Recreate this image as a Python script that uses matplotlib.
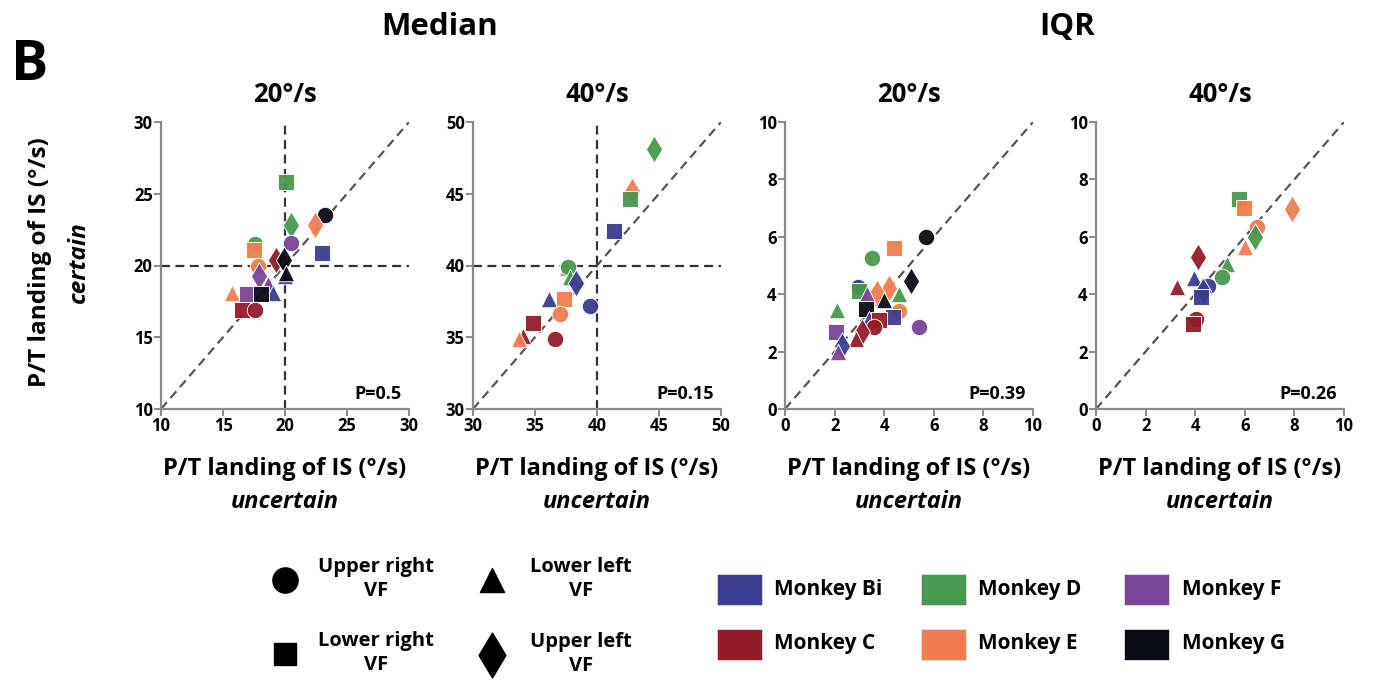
import matplotlib
matplotlib.use("Agg")
import matplotlib.pyplot as plt
from matplotlib.patches import Rectangle

plt.rcParams['font.family'] = ['Open Sans', 'DejaVu Sans']
plt.rcParams['font.weight'] = 'bold'

monkey_colors = {"Bi": "#3a3d8f", "C": "#951b2b", "D": "#47994d", "E": "#f07e4f", "F": "#7a4499", "G": "#0b0b16"}
shape_markers = {"UR": "o", "LR": "s", "LL": "^", "UL": "d"}
shape_labels = ["Upper right\nVF", "Lower right\nVF", "Lower left\nVF", "Upper left\nVF"]

# Median 20 deg/s: (monkey, field, uncertain, certain)
med20_monkey = ["D", "G", "E", "D", "F", "Bi", "D", "E", "C", "G", "E", "F", "Bi", "G", "F", "Bi", "E", "F", "G", "C", "C"]
med20_field  = ["LR", "UR", "UL", "UL", "UR", "LR", "UR", "LR", "UL", "UL", "UR", "UL", "LL", "LL", "LL", "LL", "LL", "LR", "LR", "LR", "UR"]
med20_x = [20.1, 23.2, 22.4, 20.5, 20.5, 23.0, 17.6, 17.5, 19.3, 19.9, 17.8, 17.9, 20.0, 20.1, 18.6, 19.0, 15.7, 16.9, 18.1, 16.5, 17.6]
med20_y = [25.8, 23.5, 22.8, 22.8, 21.6, 20.9, 21.5, 21.1, 20.4, 20.4, 20.0, 19.3, 19.3, 19.5, 18.7, 18.1, 18.1, 18.0, 18.0, 16.9, 16.9]

# Median 40 deg/s
med40_monkey = ["D", "E", "D", "Bi", "E", "D", "D", "Bi", "Bi", "E", "Bi", "E", "C", "C", "E", "C"]
med40_field  = ["UL", "UL", "LR", "LR", "LL", "UR", "LL", "UL", "LL", "LR", "UR", "UR", "LR", "LL", "LL", "UR"]
med40_x = [44.6, 42.8, 42.7, 41.4, 37.6, 37.7, 37.8, 38.3, 36.1, 37.3, 39.4, 37.0, 34.8, 34.0, 33.7, 36.6]
med40_y = [48.1, 45.2, 44.6, 42.4, 39.8, 39.9, 39.2, 38.8, 37.7, 37.7, 37.2, 36.6, 36.0, 35.1, 34.9, 34.9]

# IQR 20 deg/s
iqr20_monkey = ["G", "E", "D", "G", "E", "Bi", "D", "E", "F", "D", "G", "D", "G", "E", "Bi", "Bi", "C", "C", "F", "F", "C", "C", "Bi", "F"]
iqr20_field  = ["UR", "LR", "UR", "UL", "UL", "UR", "LR", "UL", "LL", "LL", "LL", "LL", "LR", "UR", "LR", "LL", "LR", "UR", "UR", "LR", "UL", "LL", "UL", "LL"]
iqr20_x = [5.7, 4.4, 3.5, 5.1, 4.2, 2.95, 3.0, 3.7, 3.3, 4.6, 4.0, 2.1, 3.25, 4.6, 4.35, 3.4, 3.8, 3.6, 5.4, 2.05, 3.1, 2.85, 2.3, 2.15]
iqr20_y = [6.0, 5.6, 5.25, 4.45, 4.2, 4.25, 4.1, 4.05, 4.0, 4.0, 3.8, 3.45, 3.5, 3.4, 3.2, 3.15, 3.1, 2.87, 2.87, 2.7, 2.68, 2.43, 2.2, 1.97]

# IQR 40 deg/s
iqr40_monkey = ["D", "E", "E", "E", "D", "E", "C", "D", "D", "Bi", "Bi", "C", "Bi", "Bi", "C", "C"]
iqr40_field  = ["LR", "LR", "UL", "UR", "UL", "LL", "UL", "LL", "UR", "LL", "UR", "LL", "UL", "LR", "UR", "LR"]
iqr40_x = [5.75, 5.95, 7.9, 6.5, 6.4, 6.0, 4.1, 5.3, 5.1, 3.95, 4.5, 3.25, 4.3, 4.25, 4.05, 3.9]
iqr40_y = [7.3, 7.0, 6.97, 6.35, 6.0, 5.65, 5.3, 5.05, 4.6, 4.55, 4.3, 4.25, 4.1, 3.9, 3.12, 2.95]

panels = [
    dict(monkey=med20_monkey, field=med20_field, x=med20_x, y=med20_y, lim=(10, 30), ticks=[10, 15, 20, 25, 30], cross=20, p="P=0.5", title="20°/s"),
    dict(monkey=med40_monkey, field=med40_field, x=med40_x, y=med40_y, lim=(30, 50), ticks=[30, 35, 40, 45, 50], cross=40, p="P=0.15", title="40°/s"),
    dict(monkey=iqr20_monkey, field=iqr20_field, x=iqr20_x, y=iqr20_y, lim=(0, 10), ticks=[0, 2, 4, 6, 8, 10], cross=None, p="P=0.39", title="20°/s"),
    dict(monkey=iqr40_monkey, field=iqr40_field, x=iqr40_x, y=iqr40_y, lim=(0, 10), ticks=[0, 2, 4, 6, 8, 10], cross=None, p="P=0.26", title="40°/s"),
]

W, H = 1374, 681
fig = plt.figure(figsize=(W / 100, H / 100), dpi=100)

lefts = [161, 473, 785, 1096]
ax_w, ax_top, ax_bot = 248, 122, 409
marker_sizes = {"o": 140, "s": 125, "^": 140, "d": 190}

for i, pan in enumerate(panels):
    ax = fig.add_axes([lefts[i] / W, 1 - ax_bot / H, ax_w / W, (ax_bot - ax_top) / H])
    lo, hi = pan["lim"]
    ax.set_xlim(lo, hi)
    ax.set_ylim(lo, hi)
    ax.set_xticks(pan["ticks"])
    ax.set_yticks(pan["ticks"])
    for s in ["top", "right"]:
        ax.spines[s].set_visible(False)
    for s in ["left", "bottom"]:
        ax.spines[s].set_color("#8a8a8a")
        ax.spines[s].set_linewidth(1.6)
    ax.tick_params(direction="out", length=5, width=1.4, color="#8a8a8a", labelsize=12, pad=1)
    for lab in ax.get_xticklabels() + ax.get_yticklabels():
        lab.set_fontweight("bold")
    ax.plot([lo, hi], [lo, hi], ls=(0, (4, 2.5)), color="#555555", lw=1.6, zorder=1)
    if pan["cross"] is not None:
        c = pan["cross"]
        ax.axvline(c, ls=(0, (4, 2.5)), color="#333333", lw=1.6, zorder=1)
        ax.axhline(c, ls=(0, (4, 2.5)), color="#333333", lw=1.6, zorder=1)
    for m, f, xv, yv in zip(pan["monkey"], pan["field"], pan["x"], pan["y"]):
        mk = shape_markers[f]
        ax.scatter(xv, yv, marker=mk, s=marker_sizes[mk], color=monkey_colors[m], edgecolors="white",
                   linewidths=0.7, alpha=0.95, zorder=3)
    ax.text(0.97, 0.02, pan["p"], transform=ax.transAxes, ha="right", va="bottom",
            fontsize=13, fontweight="bold")
    cx = (lefts[i] + ax_w / 2) / W
    fig.text(cx, 1 - 94 / H, pan["title"], ha="center", va="center", fontsize=18.5, fontweight="bold")
    fig.text(cx, 1 - 469 / H, "P/T landing of IS (°/s)", ha="center", va="center", fontsize=17, fontweight="bold")
    fig.text(cx, 1 - 502 / H, "uncertain", ha="center", va="center", fontsize=17, fontweight="bold", style="italic")

# y label (first panel)
fig.text(40 / W, 1 - 262 / H, "P/T landing of IS (°/s)", ha="center", va="center", rotation=90,
         fontsize=17.5, fontweight="bold")
fig.text(79 / W, 1 - 262 / H, "certain", ha="center", va="center", rotation=90,
         fontsize=17.5, fontweight="bold", style="italic")

# Section titles
fig.text(440 / W, 1 - 27 / H, "Median", ha="center", va="center", fontsize=22.5, fontweight="bold")
fig.text(1067 / W, 1 - 27 / H, "IQR", ha="center", va="center", fontsize=22.5, fontweight="bold")
fig.text(30 / W, 1 - 66 / H, "B", ha="center", va="center", fontsize=40, fontweight="bold")

# Legend layer in pixel coordinates
lax = fig.add_axes([0, 0, 1, 1], facecolor="none")
lax.set_xlim(0, W)
lax.set_ylim(H, 0)
lax.axis("off")

# Shape legend
shape_pos = [(285, 580, "o"), (285, 654, "s"), (492, 580, "^"), (492, 655, "d")]
shape_text_x = [376, 376, 581, 581]
shape_leg_sizes = {"o": 330, "s": 260, "^": 300, "d": 520}
for (px, py, mk), lbl, tx in zip(shape_pos, shape_labels, shape_text_x):
    lax.scatter(px, py, marker=mk, s=shape_leg_sizes[mk], color="black")
    lax.text(tx, py - 1, lbl, ha="center", va="center", fontsize=14.5, fontweight="bold", linespacing=1.25)

# Monkey legend
patch_x = [717, 921, 1124]
text_x = [774, 978, 1182]
rows_y = [589, 644]
order = [["Bi", "D", "F"], ["C", "E", "G"]]
for r, row in enumerate(order):
    for c, key in enumerate(row):
        lax.add_patch(Rectangle((patch_x[c], rows_y[r] - 15.5), 45, 31, facecolor=monkey_colors[key],
                                edgecolor="#dddddd", lw=0.6))
        lax.text(text_x[c], rows_y[r], "Monkey " + key, ha="left", va="center", fontsize=15, fontweight="bold")

fig.savefig("out.png", dpi=100)
